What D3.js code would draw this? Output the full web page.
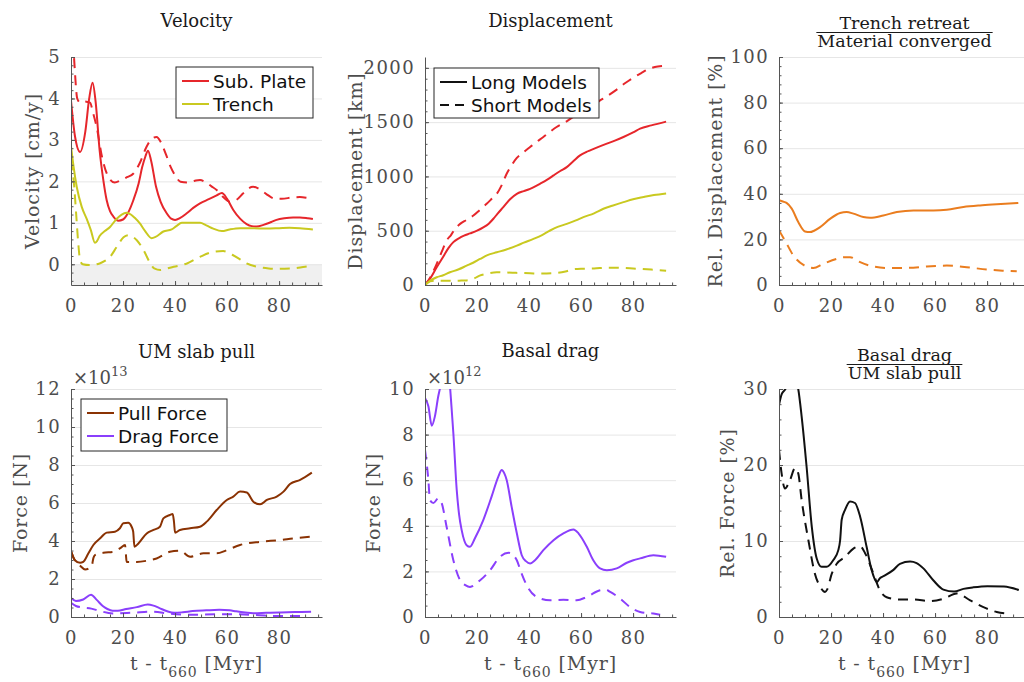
<!DOCTYPE html>
<html>
<head>
<meta charset="utf-8">
<script src="https://cdn.jsdelivr.net/npm/d3@7"></script>
<style>
body { margin: 0; background: #fff; }
svg text { font-family: 'DejaVu Serif', serif; }
.tick text { fill: #4d4d4d; font-size: 18px; letter-spacing: 1.4px; }
.tick line, .domain { stroke: #555; }
.grid .tick line { stroke: #e6e6e6; }
.axlabel { fill: #4d4d4d; font-size: 19px; letter-spacing: 0.9px; }
.title { fill: #1a1a1a; font-size: 18px; }
.legend text { font-family: 'DejaVu Sans', sans-serif; font-size: 18.5px; fill: #111; }
</style>
</head>
<body>
<svg id="fig" width="1024" height="682"></svg>
<script>
// x axis: t - t660 [Myr]
const xTicks = [0, 20, 40, 60, 80]
const xMinor = d3.range(0, 96, 5)

// Velocity [cm/y]
const velSubLong = [[0,3.95],[1.5,3.1],[3.5,2.71],[5.5,3.2],[7,4.0],[8.3,4.38],[9.5,3.9],[11,2.75],[12.5,2.0],[13.7,1.55],[15,1.28],[16.3,1.15],[18.2,1.05],[20,1.08],[22,1.25],[24,1.55],[26,1.95],[27.4,2.35],[28.6,2.6],[29.6,2.74],[30.8,2.5],[32.7,1.87],[34.5,1.5],[36.8,1.23],[38.5,1.1],[40,1.07],[42,1.12],[44.5,1.23],[47,1.36],[49.6,1.47],[53,1.57],[56,1.66],[58,1.72],[60,1.58],[62.4,1.31],[65,1.1],[67.5,0.97],[69.5,0.92],[71.4,0.91],[74,0.95],[77,1.02],[79,1.07],[82,1.11],[85.4,1.13],[88,1.13],[91,1.11],[93,1.09]]
const velSubShort = [[0,6.2],[1.15,5.0],[2.4,4.0],[3.5,3.9],[5,3.93],[7.3,3.9],[8.5,3.65],[9.9,3.3],[11.9,2.6],[14.5,2.09],[16.8,1.97],[19,2.02],[21.5,2.1],[24,2.19],[26.5,2.45],[29,2.83],[31,3.02],[32.9,3.07],[34.5,2.95],[36.5,2.65],[38.3,2.35],[40,2.15],[42.1,1.99],[45,1.97],[48,2.02],[49.6,2.03],[52,1.97],[54,1.88],[56,1.79],[58.5,1.62],[61,1.51],[63.5,1.55],[66,1.7],[68,1.82],[70,1.87],[72,1.83],[75,1.7],[78,1.59],[81,1.58],[85,1.61],[88,1.62],[91,1.6],[93,1.58]]
const velTrenchLong = [[0,2.85],[1,2.35],[2.2,1.87],[4.1,1.39],[6,1.1],[7.6,0.83],[9.2,0.52],[10,0.56],[11,0.68],[13,0.8],[15,0.9],[17.6,1.1],[19.5,1.2],[21.3,1.24],[23,1.2],[24.5,1.12],[26.4,0.99],[28.5,0.8],[31,0.63],[32.5,0.66],[35.5,0.79],[38.7,0.84],[40.5,0.92],[42.6,1.0],[46,1.0],[49.6,1.0],[52,0.94],[54.7,0.86],[58,0.8],[61,0.84],[65,0.87],[70,0.87],[75,0.86],[80,0.87],[84,0.88],[88,0.87],[93,0.84]]
const velTrenchShort = [[0,2.5],[1.2,1.9],[2,1.2],[2.8,0.5],[3.5,0.1],[4.5,0],[7.2,-0.02],[11,0.02],[13,0.08],[15,0.18],[17.6,0.42],[20.2,0.65],[22.1,0.7],[25.3,0.58],[27.9,0.34],[30.5,0.02],[32,-0.1],[34.4,-0.14],[37,-0.1],[39.5,-0.06],[44.6,0.02],[49.6,0.18],[54.7,0.3],[58.5,0.32],[62,0.23],[65,0.12],[67.5,0.02],[72.4,-0.07],[76,-0.1],[80,-0.11],[85.4,-0.1],[90,-0.06],[93,-0.04]]

// Displacement [km]
const dispSubLong = [[0,0],[2,60],[4.5,163],[7,260],[9,340],[10.9,395],[13,430],[15,455],[17.3,475],[20,500],[22.4,530],[24.5,565],[26.3,610],[28,660],[30.1,717],[32.7,790],[35.3,840],[38,865],[40.4,886],[44.2,932],[47,970],[49.4,1009],[52,1050],[54.5,1086],[57,1140],[59.6,1194],[62,1225],[63.5,1240],[66,1265],[69.9,1302],[73,1330],[76.3,1363],[80,1405],[82.7,1440],[87,1470],[92.7,1505]]
const dispSubShort = [[0,0],[2,70],[4.5,194],[6.5,310],[8.3,409],[10,460],[11.5,515],[13.5,563],[16,600],[18.6,640],[21,690],[23.7,748],[25.5,790],[27.6,840],[29.5,920],[31.4,1025],[33.5,1110],[35.3,1170],[38,1225],[40.4,1271],[43,1320],[45.5,1363],[48,1410],[50.6,1455],[54,1500],[57,1548],[60,1590],[62.2,1620],[65,1665],[67.3,1700],[70,1740],[73.7,1800],[77,1860],[80.1,1910],[83,1950],[86.5,1994],[89.5,2012],[92.7,2018]]
const dispTrenchLong = [[0,0],[2,40],[4.5,71],[7,90],[9.6,117],[13,145],[16,178],[18.5,205],[21.2,240],[24,275],[27.6,301],[31,325],[35.3,363],[38,390],[41.7,425],[45,460],[48.1,502],[51,535],[54.5,563],[58,595],[60.9,625],[65,660],[68.6,702],[72,730],[76.3,763],[80,790],[84,810],[88,828],[92.7,843]]
const dispTrenchShort = [[0,0],[2,35],[4.5,40],[7,40],[10,38],[13,40],[16,42],[18,50],[21,86],[24,105],[27.6,117],[31,115],[35,112],[40.4,108],[45,105],[50,110],[54,125],[57,145],[60,150],[65,152],[70,160],[75,158],[80,152],[83,148],[88,140],[92.7,132]]

// Trench retreat / material converged [%]
const relDispLong = [[0,37.2],[1.5,36.6],[2.9,36],[4.9,33.5],[7.4,27.6],[10,23.5],[11.9,23.2],[13.5,23.8],[15.8,25.4],[19.6,29],[23.5,31.6],[26,32],[28.6,31.3],[32.4,29.8],[35,29.5],[40.1,30.5],[45.3,32],[51.7,32.7],[59.4,32.7],[64.5,33],[70.9,34.2],[77.3,34.9],[83.7,35.4],[92,36]]
const relDispShort = [[0,24],[2.3,19.5],[5.5,13],[9.4,8.8],[13.2,7.5],[17,9.3],[22.2,11.5],[25,12.2],[27.3,12.2],[31.2,10],[36.3,8.1],[41.4,7.5],[49.1,7.5],[56.8,8.1],[64.5,8.5],[72.2,7.8],[79.9,6.8],[86,6.3],[91.4,6]]

// UM slab pull [x1e13 N]
const pullLong = [[0,3.49],[1.5,2.99],[3.5,2.85],[4.7,2.9],[6.7,3.35],[8.6,3.79],[11.2,4.14],[13.7,4.44],[16.9,4.49],[18.8,4.67],[20.1,4.93],[22,4.96],[23.3,4.75],[23.9,4.5],[24.4,3.7],[25.9,3.87],[29.1,4.4],[31.7,4.58],[34.2,4.75],[35.5,5.19],[38,5.37],[39.1,5.42],[39.6,5.0],[40,4.44],[41.9,4.58],[45.8,4.67],[49.6,4.75],[52.2,5.02],[56,5.63],[59.9,6.16],[62.4,6.34],[65,6.6],[67.6,6.55],[70.1,6.07],[72.7,5.93],[75.3,6.16],[79.1,6.34],[81.7,6.6],[84.2,7.0],[88.1,7.22],[92.6,7.6]]
const pullShort = [[0,3.45],[1.5,2.97],[3.5,2.7],[5.4,2.5],[7.9,2.64],[8.6,3.1],[9.2,3.26],[12.4,3.38],[16.3,3.43],[18.8,3.61],[20.8,3.79],[21.1,3.3],[21.4,2.9],[25.3,2.9],[29.1,2.96],[32.9,3.08],[38,3.43],[41.9,3.49],[45.8,3.17],[50.9,3.35],[56,3.35],[59.9,3.52],[65,3.79],[72.7,3.96],[80.4,4.05],[85.5,4.14],[92.6,4.23]]
const dragLong = [[0,1.0],[1.9,0.84],[4.7,0.92],[7.7,1.17],[9.9,0.9],[12.2,0.58],[14,0.42],[16,0.33],[18,0.33],[21.2,0.42],[25.3,0.52],[29.5,0.66],[31.7,0.6],[34,0.47],[37,0.3],[39.7,0.22],[43,0.25],[46.8,0.31],[52,0.35],[57,0.38],[61,0.35],[63.5,0.3],[67,0.24],[70,0.2],[75,0.22],[80,0.24],[86,0.26],[92.3,0.27]]
const dragShort = [[0,0.75],[1.9,0.58],[4.5,0.5],[7.8,0.44],[11,0.32],[16,0.19],[23.7,0.23],[31.4,0.28],[37.8,0.18],[46.8,0.12],[55.8,0.14],[64.7,0.14],[72.4,0.09],[78.8,0.05],[90.3,0.05]]

// Basal drag [x1e12 N]
const basalLong = [[0,9.6],[1.3,9.24],[2.6,8.39],[3.8,8.8],[5.1,9.68],[5.8,10.05],[7,10.8],[8.3,11],[9.3,10.5],[10.2,9.2],[10.9,8.06],[12.2,5.57],[13.1,4.5],[14.1,3.81],[16,3.15],[17.3,3.08],[19.2,3.45],[22.4,4.25],[25.6,5.28],[28.2,6.16],[29.5,6.45],[30.5,6.3],[31.4,6.01],[33.3,4.84],[35.3,3.67],[37.2,2.71],[38.8,2.45],[40.4,2.35],[42.3,2.49],[45.5,2.93],[49.4,3.37],[53.2,3.67],[57.1,3.84],[59,3.67],[62.2,3.08],[64.7,2.49],[67.3,2.13],[69.9,2.05],[73.7,2.13],[77.6,2.38],[80.1,2.49],[82.7,2.57],[87.8,2.71],[92.7,2.64]]
const basalShort = [[0,7.33],[1.3,6.0],[1.9,5.13],[3.2,5.0],[5.1,5.2],[6.4,5.0],[8.3,3.96],[10.9,2.49],[13.5,1.61],[15.5,1.4],[17.3,1.32],[21.2,1.61],[25,2.05],[28.8,2.64],[32.1,2.82],[33.5,2.75],[35.3,2.49],[37,1.95],[39.1,1.39],[42.9,0.88],[48.1,0.73],[53.2,0.76],[58.3,0.73],[62.2,0.88],[67.3,1.17],[69.5,1.2],[71.2,1.1],[75,0.81],[78.8,0.44],[82.7,0.22],[87.8,0.15],[90.4,0.1]]

// Basal drag / UM slab pull [%]
const relForceLong = [[0,27.9],[1,29.3],[2.3,29.9],[4,31],[6,31.5],[7.4,30],[8.7,26.4],[10.6,19.8],[12.6,11.9],[14.5,7.7],[16.4,6.6],[18.3,6.6],[20.9,7.5],[22.8,8.8],[23.5,10.1],[24.1,12.8],[25.4,14.1],[27.3,15.2],[29.2,15],[31.2,13.2],[33.7,9.2],[35.6,6.2],[37.6,4.6],[38.8,5.1],[40.4,5.4],[44,6.2],[46.5,7.0],[50.4,7.3],[52.9,7.1],[55.5,6.4],[59.4,4.8],[63.2,3.6],[67.3,3.35],[70.9,3.7],[74.7,3.9],[80.1,4.05],[86.5,4.0],[92.2,3.55]]
const relForceShort = [[0,22],[1,18.9],[2.3,16.9],[4.2,18],[6.2,19.6],[7.4,18.9],[8.7,15.4],[11.3,10.1],[13.8,5.7],[15.8,4],[17.7,3.3],[18.5,3.6],[20.3,5.7],[22.2,7.0],[25.4,7.9],[28.6,9],[31.2,9.3],[33.1,8.4],[36.3,5.7],[38.8,3.5],[41.4,2.6],[46.5,2.3],[51.7,2.3],[58.1,2.1],[63.2,2.4],[68.3,3.1],[73.5,2.2],[78.6,1.3],[83.7,0.66],[88.8,0.44]]

const red = '#e6262b', yellow = '#c9c920', orange = '#ea7d1f', brown = '#8a3203', purple = '#8a3ffc', black = '#111'
const dash = '10,7'

const svg = d3.select('#fig')
const W = 251, H = 228
const xDomain = [0, 96.5]

function panel(cfg) {
	const x = d3.scaleLinear().domain(xDomain).range([cfg.x0, cfg.x0 + W])
	const y = d3.scaleLinear().domain(cfg.yDomain).range([cfg.y0 + H, cfg.y0])
	const g = svg.append('g')

	svg.append('clipPath').attr('id', 'clip' + cfg.id)
		.append('rect').attr('x', cfg.x0).attr('y', cfg.y0).attr('width', W).attr('height', H)

	if (cfg.shadeBelow != null)
		g.append('rect').attr('x', cfg.x0).attr('y', y(cfg.shadeBelow)).attr('width', W)
			.attr('height', y(cfg.yDomain[0]) - y(cfg.shadeBelow)).attr('fill', '#f0f0f0')

	g.append('g').attr('class', 'grid').attr('transform', `translate(${cfg.x0},0)`)
		.call(d3.axisLeft(y).tickValues(cfg.yMajor).tickSize(-W).tickFormat(''))
		.call(s => s.select('.domain').remove())

	const line = d3.line().x(d => x(d[0])).y(d => y(d[1])).curve(d3.curveMonotoneX)
	const lines = g.append('g').attr('clip-path', `url(#clip${cfg.id})`)
	cfg.series.forEach(s => {
		lines.append('path').attr('d', line(s.data)).attr('fill', 'none')
			.attr('stroke', s.color).attr('stroke-width', 2)
			.attr('stroke-dasharray', s.dashed ? dash : null)
	})

	g.append('g').attr('transform', `translate(${cfg.x0},0)`)
		.call(d3.axisLeft(y).tickValues(cfg.yMinor).tickSize(-2.5).tickFormat(''))
		.call(s => s.select('.domain').remove())
	g.append('g').attr('transform', `translate(${cfg.x0},0)`)
		.call(d3.axisLeft(y).tickValues(cfg.yMajor).tickSizeInner(-4).tickSizeOuter(0).tickPadding(10).tickFormat(d3.format('d')))
	g.append('g').attr('transform', `translate(0,${cfg.y0 + H})`)
		.call(d3.axisBottom(x).tickValues(xMinor).tickSize(-2.5).tickFormat(''))
		.call(s => s.select('.domain').remove())
	g.append('g').attr('transform', `translate(0,${cfg.y0 + H})`)
		.call(d3.axisBottom(x).tickValues(xTicks).tickSizeInner(-4).tickSizeOuter(0).tickPadding(14).tickFormat(d3.format('d')))
	g.selectAll('.domain').attr('stroke', '#555')

	// y label
	g.append('text').attr('class', 'axlabel')
		.attr('transform', `translate(${cfg.x0 - cfg.ylabelOff},${cfg.y0 + H / 2}) rotate(-90)`)
		.attr('text-anchor', 'middle').attr('dominant-baseline', 'central').text(cfg.ylabel)

	// title
	const cx = cfg.x0 + W / 2
	if (cfg.title.length == 1) {
		g.append('text').attr('class', 'title').attr('x', cx).attr('y', cfg.titleY)
			.attr('text-anchor', 'middle').text(cfg.title[0])
	} else {
		const num = g.append('text').attr('class', 'title').attr('x', cx).attr('y', cfg.titleY)
			.attr('text-anchor', 'middle').style('font-size', '17.5px').text(cfg.title[0])
		const den = g.append('text').attr('class', 'title').attr('x', cx).attr('y', cfg.titleY + 18)
			.attr('text-anchor', 'middle').style('font-size', '17.5px').text(cfg.title[1])
		const w = Math.max(num.node().getComputedTextLength(), den.node().getComputedTextLength()) + 2
		g.append('line').attr('x1', cx - w / 2).attr('x2', cx + w / 2)
			.attr('y1', cfg.titleY + 3.5).attr('y2', cfg.titleY + 3.5).attr('stroke', '#1a1a1a').attr('stroke-width', 1)
	}

	// multiplier
	if (cfg.exponent) {
		const t = g.append('text').attr('x', cfg.x0 + 2).attr('y', cfg.y0 - 5).attr('fill', '#4d4d4d').attr('font-size', 18)
		t.append('tspan').text('×10')
		t.append('tspan').attr('dy', -8).attr('font-size', 13).text(cfg.exponent)
	}

	// x label
	if (cfg.xlabel) {
		const t = g.append('text').attr('class', 'axlabel').attr('x', cx).attr('y', cfg.y0 + H + 53).attr('text-anchor', 'middle')
		t.append('tspan').text('t - t')
		t.append('tspan').attr('dy', 7).attr('font-size', 14).text('660')
		t.append('tspan').attr('dy', -7).text(' [Myr]')
	}

	// legend
	if (cfg.legend) {
		const L = cfg.legend
		const lg = g.append('g').attr('class', 'legend')
		lg.append('rect').attr('x', L.x).attr('y', L.y).attr('width', L.w).attr('height', L.h)
			.attr('fill', '#fff').attr('stroke', '#262626').attr('stroke-width', 1)
		L.items.forEach((it, i) => {
			const cy = L.y + 14 + i * 23
			lg.append('line').attr('x1', L.x + 6).attr('x2', L.x + 33).attr('y1', cy).attr('y2', cy)
				.attr('stroke', it.color).attr('stroke-width', 2).attr('stroke-dasharray', it.dashed ? '9,6' : null)
			lg.append('text').attr('x', L.x + 37).attr('y', cy).attr('dominant-baseline', 'central').text(it.label)
		})
	}
}

const cols = [71, 425, 779]
const rows = [57, 389]

panel({id: 1, x0: cols[0], y0: rows[0], yDomain: [-0.5, 5], yMajor: d3.range(0, 6, 1), yMinor: d3.range(-0.4, 5, 0.2),
	shadeBelow: 0, ylabel: 'Velocity [cm/y]', ylabelOff: 39, title: ['Velocity'], titleY: 27,
	series: [
		{data: velSubShort, color: red, dashed: true},
		{data: velTrenchShort, color: yellow, dashed: true},
		{data: velSubLong, color: red},
		{data: velTrenchLong, color: yellow}
	],
	legend: {x: 176, y: 67, w: 137, h: 51, items: [{label: 'Sub. Plate', color: red}, {label: 'Trench', color: yellow}]}
})

panel({id: 2, x0: cols[1], y0: rows[0], yDomain: [0, 2100], yMajor: d3.range(0, 2001, 500), yMinor: d3.range(0, 2100, 100),
	ylabel: 'Displacement [km]', ylabelOff: 70, title: ['Displacement'], titleY: 27,
	series: [
		{data: dispSubShort, color: red, dashed: true},
		{data: dispTrenchShort, color: yellow, dashed: true},
		{data: dispSubLong, color: red},
		{data: dispTrenchLong, color: yellow}
	],
	legend: {x: 434, y: 68, w: 165, h: 50, items: [{label: 'Long Models', color: black}, {label: 'Short Models', color: black, dashed: true}]}
})

panel({id: 3, x0: cols[2], y0: rows[0], yDomain: [0, 100], yMajor: d3.range(0, 101, 20), yMinor: d3.range(0, 101, 4),
	ylabel: 'Rel. Displacement [%]', ylabelOff: 64, title: ['Trench retreat', 'Material converged'], titleY: 29,
	series: [
		{data: relDispShort, color: orange, dashed: true},
		{data: relDispLong, color: orange}
	]
})

panel({id: 4, x0: cols[0], y0: rows[1], yDomain: [0, 12], yMajor: d3.range(0, 13, 2), yMinor: d3.range(0, 12.1, 0.5),
	ylabel: 'Force [N]', ylabelOff: 51, title: ['UM slab pull'], titleY: 358, exponent: '13', xlabel: true,
	series: [
		{data: pullShort, color: brown, dashed: true},
		{data: dragShort, color: purple, dashed: true},
		{data: pullLong, color: brown},
		{data: dragLong, color: purple}
	],
	legend: {x: 81, y: 399, w: 146, h: 52, items: [{label: 'Pull Force', color: brown}, {label: 'Drag Force', color: purple}]}
})

panel({id: 5, x0: cols[1], y0: rows[1], yDomain: [0, 10], yMajor: d3.range(0, 11, 2), yMinor: d3.range(0, 10.1, 0.5),
	ylabel: 'Force [N]', ylabelOff: 52, title: ['Basal drag'], titleY: 357, exponent: '12', xlabel: true,
	series: [
		{data: basalShort, color: purple, dashed: true},
		{data: basalLong, color: purple}
	]
})

panel({id: 6, x0: cols[2], y0: rows[1], yDomain: [0, 30], yMajor: d3.range(0, 31, 10), yMinor: d3.range(0, 31, 2),
	ylabel: 'Rel. Force [%]', ylabelOff: 52, title: ['Basal drag', 'UM slab pull'], titleY: 361, xlabel: true,
	series: [
		{data: relForceShort, color: black, dashed: true},
		{data: relForceLong, color: black}
	]
})
</script>
</body>
</html>
